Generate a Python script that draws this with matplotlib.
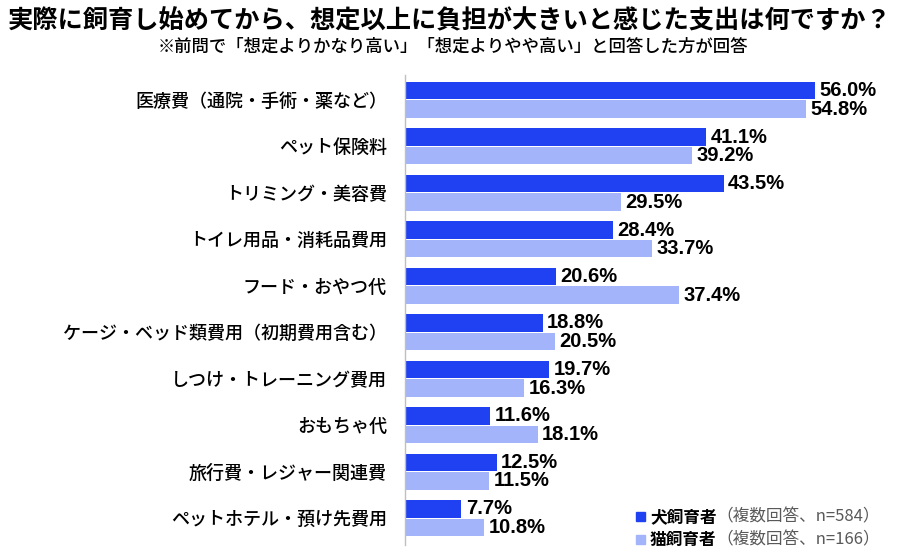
import matplotlib
matplotlib.use("Agg")
import matplotlib.pyplot as plt
from matplotlib.patches import Rectangle
import numpy as np

plt.rcParams['font.family'] = ['Noto Sans CJK JP', 'DejaVu Sans']

categories = [
    "医療費（通院・手術・薬など）",
    "ペット保険料",
    "トリミング・美容費",
    "トイレ用品・消耗品費用",
    "フード・おやつ代",
    "ケージ・ベッド類費用（初期費用含む）",
    "しつけ・トレーニング費用",
    "おもちゃ代",
    "旅行費・レジャー関連費",
    "ペットホテル・預け先費用",
]
dog_values = [56.0, 41.1, 43.5, 28.4, 20.6, 18.8, 19.7, 11.6, 12.5, 7.7]
cat_values = [54.8, 39.2, 29.5, 33.7, 37.4, 20.5, 16.3, 18.1, 11.5, 10.8]
series_names = ["犬飼育者", "猫飼育者"]
series_notes = ["（複数回答、n=584）", "（複数回答、n=166）"]
title = "実際に飼育し始めてから、想定以上に負担が大きいと感じた支出は何ですか？"
subtitle = "※前問で「想定よりかなり高い」「想定よりやや高い」と回答した方が回答"

dog_color = "#1f41f2"
cat_color = "#a3b4fa"

fig = plt.figure(figsize=(9, 5.54), dpi=100)
ax = fig.add_axes([0.45, 0.016, 0.528, 0.849])

y = np.arange(len(categories))
off = 0.2
h = 0.38
ax.barh(y - off, dog_values, height=h, color=dog_color)
ax.barh(y + off, cat_values, height=h, color=cat_color)

num_font = ['Liberation Sans', 'DejaVu Sans']
for yi, v in zip(y, dog_values):
    ax.text(v + 0.6, yi - off, f"{v:.1f}%", va='center', ha='left',
            fontsize=14.5, fontweight='bold', family=num_font)
for yi, v in zip(y, cat_values):
    ax.text(v + 0.6, yi + off, f"{v:.1f}%", va='center', ha='left',
            fontsize=14.5, fontweight='bold', family=num_font)

ax.set_xlim(0, 64.9)
ax.set_ylim(9.58, -0.54)
ax.set_yticks(y)
ax.set_yticklabels(categories, fontsize=13, fontweight='medium')
ax.tick_params(axis='y', length=0, pad=13)
ax.set_xticks([])
for s in ['top', 'right', 'bottom']:
    ax.spines[s].set_visible(False)
ax.spines['left'].set_color('#bfbfbf')
ax.spines['left'].set_linewidth(1.0)

fig.text(0.5, 0.962, title, ha='center', va='center', fontsize=18.2, fontweight='bold')
fig.text(0.503, 0.915, subtitle, ha='center', va='center', fontsize=12.5, fontweight='medium')

# legend
leg_y = [1 - 517 / 554, 1 - 540 / 554]
for i, (name, note, col) in enumerate(zip(series_names, series_notes, [dog_color, cat_color])):
    fig.patches.append(Rectangle((636 / 900, leg_y[i] - 0.008), 9 / 900, 9 / 554,
                                 transform=fig.transFigure, color=col))
    t = fig.text(650 / 900, leg_y[i], name, ha='left', va='center', fontsize=12, fontweight='bold')
    ax.annotate(note, xy=(1, 0.5), xycoords=t, ha='left', va='center',
                fontsize=12, color='#595959', annotation_clip=False)

fig.savefig("out.png", dpi=100)
